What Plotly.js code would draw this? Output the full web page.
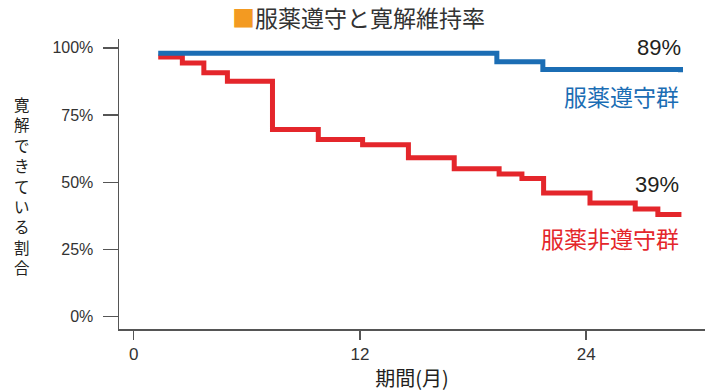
<!DOCTYPE html>
<html>
<head>
<meta charset="utf-8">
<script src="https://cdn.plot.ly/plotly-3.0.1.min.js"></script>
<style>html,body{margin:0;padding:0;background:#fff;}#chart{width:708px;height:392px;}</style>
</head>
<body>
<div id="chart"></div>
<script>
// Data (months, % in remission)
const adherentMonths = [1.3, 19.26, 21.7, 29.0];
const adherentRate   = [98.0, 94.8, 92.0, 90.9];
const nonAdherentMonths = [1.3, 2.58, 3.72, 4.97, 7.36, 9.79, 12.14, 14.57, 17.0, 19.38, 20.59, 21.74, 24.2, 26.6, 27.8, 29.05];
const nonAdherentRate   = [96.6, 94.4, 90.7, 87.6, 69.6, 65.9, 64.0, 59.1, 55.0, 53.1, 51.4, 46.0, 42.3, 40.1, 38.0, 38.0];
const xTicks = [0, 12, 24];
const yTicks = [0, 25, 50, 75, 100];
const seriesNames = ['服薬遵守群', '服薬非遵守群'];
const finalLabels = ['89%', '39%'];
const chartTitle = '服薬遵守と寛解維持率';
const yTitle = '寛解できている割合';
const xTitle = '期間(月)';

const BLUE = '#1b6db4', RED = '#e4262b';
const FONT = 'Liberation Sans, Noto Sans CJK JP, sans-serif';
const CJK = 'Noto Sans CJK JP, sans-serif';

const traces = [
  {x: nonAdherentMonths, y: nonAdherentRate, type: 'scatter', mode: 'lines',
   line: {shape: 'hv', color: RED, width: 5}, name: seriesNames[1], hoverinfo: 'skip'},
  {x: adherentMonths, y: adherentRate, type: 'scatter', mode: 'lines',
   line: {shape: 'hv', color: BLUE, width: 5}, name: seriesNames[0], hoverinfo: 'skip'}
];

const H = 392, T = 39, B = 63, L = 119, W = 586, PH = H - T - B;
const px = (xp) => (xp - L) / W;          // pixel -> paper x
const py = (yp) => (H - B - yp) / PH;     // pixel -> paper y
const annotations = [
  {xref: 'paper', yref: 'paper', x: px(358), y: py(17), xanchor: 'center', yanchor: 'middle',
   text: '<span style="color:#f39a21">■</span>' + chartTitle, showarrow: false,
   font: {family: CJK, size: 23, color: '#333'}},
  {xref: 'paper', yref: 'paper', x: px(683), y: py(47), xanchor: 'right', yanchor: 'middle', text: finalLabels[0],
   showarrow: false, font: {family: FONT, size: 22, color: '#231f20'}},
  {x: 29.05, y: 82.0, xref: 'x', yref: 'y', xanchor: 'right', yanchor: 'middle', text: seriesNames[0],
   showarrow: false, font: {family: CJK, size: 23, color: BLUE}},
  {x: 29.05, y: 49.1, xref: 'x', yref: 'y', xanchor: 'right', yanchor: 'middle', text: finalLabels[1],
   showarrow: false, font: {family: FONT, size: 22, color: '#231f20'}},
  {x: 29.05, y: 29.4, xref: 'x', yref: 'y', xanchor: 'right', yanchor: 'middle', text: seriesNames[1],
   showarrow: false, font: {family: CJK, size: 23, color: RED}}
];
// vertical y-axis title: one upright character per step
Array.from(yTitle).forEach((c, i) => {
  annotations.push({xref: 'paper', yref: 'paper', x: px(22), y: py(104 + i * 20.4),
    xanchor: 'center', yanchor: 'middle', text: c, showarrow: false,
    font: {family: CJK, size: 15.5, color: '#231f20'}});
});

const layout = {
  width: 708, height: 392,
  margin: {l: L, r: 3, t: T, b: B, pad: 0},
  paper_bgcolor: '#fff', plot_bgcolor: '#fff',
  showlegend: false,
  xaxis: {range: [-0.78, 30.3], tickvals: xTicks, ticktext: xTicks.map(String),
    showgrid: false, zeroline: false, showline: true, linecolor: '#555', linewidth: 1.5,
    ticks: 'outside', ticklen: 9, tickwidth: 1.5, tickcolor: '#555',
    tickfont: {family: FONT, size: 17, color: '#333'},
    title: {text: xTitle, font: {family: CJK, size: 20, color: '#231f20'}, standoff: 9},
    fixedrange: true},
  yaxis: {range: [-4.58, 103.3], tickvals: yTicks, ticktext: yTicks.map(v => v + '%'),
    showgrid: false, zeroline: false, showline: true, linecolor: '#555', linewidth: 1.5,
    ticks: 'outside', ticklen: 15, tickwidth: 1.5, tickcolor: '#555',
    ticklabelstandoff: 6,
    tickfont: {family: FONT, size: 16, color: '#333'}, fixedrange: true},
  annotations: annotations
};

Plotly.newPlot('chart', traces, layout, {displayModeBar: false, staticPlot: true});
</script>
</body>
</html>
